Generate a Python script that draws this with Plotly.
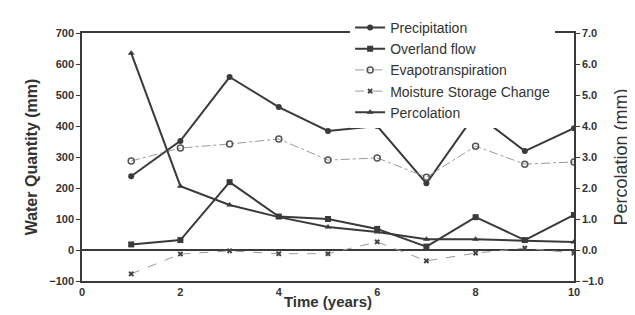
import plotly.graph_objects as go

years = [1, 2, 3, 4, 5, 6, 7, 8, 9, 10]
precipitation = [238, 352, 558, 461, 384, 400, 215, 440, 319, 393]
overland_flow = [18, 32, 219, 108, 100, 68, 11, 106, 32, 113]
evapotranspiration = [287, 329, 342, 358, 290, 297, 235, 335, 277, 284]
moisture_change = [-77, -13, -3, -12, -12, 26, -35, -10, 6, -10]
percolation = [6.35, 2.06, 1.45, 1.06, 0.74, 0.58, 0.35, 0.35, 0.30, 0.26]

left_ticks = [-100, 0, 100, 200, 300, 400, 500, 600, 700]
right_ticks = [-1, 0, 1, 2, 3, 4, 5, 6, 7]
x_ticks = [0, 2, 4, 6, 8, 10]

dark = "#3a3a3a"
light = "#9a9a9a"
font = "Liberation Sans"

fig = go.Figure()
fig.add_trace(go.Scatter(x=years, y=precipitation, name="Precipitation", mode="lines+markers",
                         line=dict(color=dark, width=2), marker=dict(symbol="circle", size=6, color=dark)))
fig.add_trace(go.Scatter(x=years, y=overland_flow, name="Overland flow", mode="lines+markers",
                         line=dict(color=dark, width=2), marker=dict(symbol="square", size=6, color=dark)))
fig.add_trace(go.Scatter(x=years, y=evapotranspiration, name="Evapotranspiration", mode="lines+markers",
                         line=dict(color=light, width=1, dash="dashdot"),
                         marker=dict(symbol="circle-open", size=6, color="#555", line=dict(width=1.5))))
fig.add_trace(go.Scatter(x=years, y=moisture_change, name="Moisture Storage Change", mode="lines+markers",
                         line=dict(color=light, width=1, dash="dash"),
                         marker=dict(symbol="x", size=5, color="#444")))
fig.add_trace(go.Scatter(x=years, y=percolation, name="Percolation", mode="lines+markers", yaxis="y2",
                         line=dict(color=dark, width=2), marker=dict(symbol="triangle-up", size=6, color=dark)))

fig.update_layout(
    width=635, height=315,
    margin=dict(l=74, r=69, t=25, b=42, autoexpand=False),
    paper_bgcolor="white", plot_bgcolor="white",
    font=dict(family=font, color="#333"),
    xaxis=dict(range=[0, 10], tickvals=x_ticks, showline=True, linecolor=dark, linewidth=1.5,
               mirror=True, showgrid=False, zeroline=False, ticks="",
               tickfont=dict(size=11, family=font, weight="bold"),
               title=dict(text="<b>Time (years)</b>", font=dict(size=15), standoff=0)),
    yaxis=dict(range=[-100, 700], tickvals=left_ticks, showline=True, linecolor=dark, linewidth=1.5,
               showgrid=False, zeroline=True, zerolinecolor=dark, zerolinewidth=1.5,
               ticks="outside", ticklen=4, tickcolor=dark,
               tickfont=dict(size=11, family=font, weight="bold"),
               title=dict(text="<b>Water Quantity (mm)</b>", font=dict(size=16), standoff=8)),
    yaxis2=dict(range=[-1, 7], tickvals=right_ticks, tickformat=".1f", overlaying="y", side="right",
                showline=True, linecolor=dark, linewidth=1.5, showgrid=False, zeroline=False,
                ticks="outside", ticklen=4, tickcolor=dark,
                tickfont=dict(size=11, family=font, weight="bold"),
                title=dict(text="Percolation (mm)", font=dict(size=18), standoff=12)),
    legend=dict(x=0.545, y=1.085, xanchor="left", yanchor="top", bgcolor="white",
                font=dict(size=14, family=font, color="#333"), tracegroupgap=0, itemwidth=30),
)

fig.write_html("out.html")
